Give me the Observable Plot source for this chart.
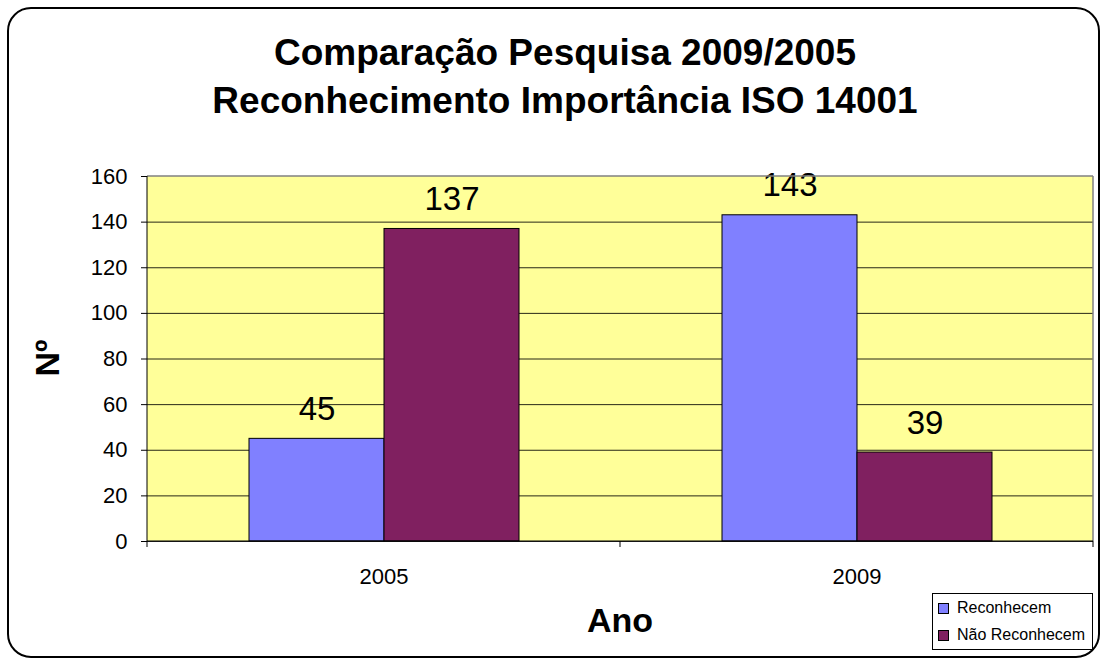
<!DOCTYPE html>
<html>
<head>
<meta charset="utf-8">
<script src="https://cdn.jsdelivr.net/npm/d3@7"></script>
<script src="https://cdn.jsdelivr.net/npm/@observablehq/plot@0.6"></script>
<style>
  html, body { margin: 0; padding: 0; background: #fff; }
  #wrap { position: relative; width: 1104px; height: 661px; font-family: "Liberation Sans", Arial, sans-serif; color: #000; overflow: hidden; }
  #frame { position: absolute; left: 7px; top: 7px; width: 1093px; height: 651px; border: 2px solid #000; border-radius: 24px; box-sizing: border-box; }
  #chart { position: absolute; left: 0; top: 0; }
  #title { position: absolute; left: 565px; top: 29px; transform: translateX(-50%); white-space: nowrap; text-align: center; font-weight: bold; font-size: 37px; line-height: 48px; }
  #ytitle { position: absolute; left: 47px; top: 358px; transform: translate(-50%, -50%) rotate(-90deg); font-weight: bold; font-size: 34px; white-space: nowrap; }
  #xtitle { position: absolute; left: 620px; top: 600px; transform: translateX(-50%); font-weight: bold; font-size: 34px; line-height: 40px; white-space: nowrap; }
  #legend { position: absolute; left: 932px; top: 593px; width: 161px; height: 57px; border: 1px solid #000; box-sizing: border-box; background: #fff; font-size: 16px; }
  .item { position: absolute; left: 5px; display: flex; align-items: center; white-space: nowrap; }
  .sw { width: 9px; height: 9px; border: 1px solid #000; margin-right: 8px; }
</style>
</head>
<body>
<div id="wrap">
  <div id="frame"></div>
  <div id="chart"></div>
  <div id="title">Comparação Pesquisa 2009/2005<br>Reconhecimento Importância ISO 14001</div>
  <div id="ytitle">Nº</div>
  <div id="xtitle">Ano</div>
  <div id="legend"></div>
</div>
<script>
const years = ["2005", "2009"];
const series = ["Reconhecem", "Não Reconhecem"];
const reconhecem = [45, 143];
const naoReconhecem = [137, 39];
const yTicks = [0, 20, 40, 60, 80, 100, 120, 140, 160];
const colors = ["#8080FF", "#802060"];

const data = years.flatMap((yr, i) => [
  {year: yr, series: series[0], value: reconhecem[i]},
  {year: yr, series: series[1], value: naoReconhecem[i]}
]);

const chart = Plot.plot({
  width: 1104,
  height: 661,
  marginLeft: 147,
  marginRight: 11,
  marginTop: 176,
  marginBottom: 120,
  style: {fontFamily: "Liberation Sans, Arial, sans-serif", color: "#000", background: "transparent", overflow: "visible"},
  fx: {domain: years, padding: 0, label: null},
  x: {domain: series, paddingInner: 0, paddingOuter: 0.745, axis: null},
  y: {domain: [0, 160], label: null},
  color: {domain: series, range: colors},
  marks: [
    Plot.gridY(yTicks.filter(t => t < 160), {stroke: "#000", strokeOpacity: 0.85, strokeWidth: 1}),
    Plot.barY(data, {fx: "year", x: "series", y: "value", fill: "series", stroke: "#000", strokeWidth: 1}),
    Plot.text(data, {fx: "year", x: "series", y: "value", text: d => String(d.value), lineAnchor: "bottom", dy: -19, fontSize: 33, fill: "#000"}),
    Plot.axisY(yTicks, {tickSize: 6, tickPadding: 14, fontSize: 22, label: null, stroke: "#000"}),
    Plot.axisFx({anchor: "bottom", tickSize: 0, tickPadding: 27, fontSize: 22, label: null})
  ]
});
document.getElementById("chart").appendChild(chart);

// plot-area background, borders and category boundary ticks, placed from Plot's own scales
const fxs = chart.scale("fx");
const ys = chart.scale("y");
const yBottom = ys.apply(0), yTop = ys.apply(160);
const edges = [];
fxs.domain.forEach(d => { const a = fxs.apply(d); edges.push(a, a + fxs.bandwidth); });
const uniq = Array.from(new Set(edges.map(e => Math.round(e * 10) / 10))).sort((a, b) => a - b);
const left = uniq[0], right = uniq[uniq.length - 1];
const svg = d3.select(chart);
svg.insert("rect", ":first-child")
  .attr("x", left).attr("y", yTop).attr("width", right - left).attr("height", yBottom - yTop)
  .attr("fill", "#FFFF99");
const g = svg.append("g");
g.append("line").attr("x1", left).attr("x2", right).attr("y1", yTop).attr("y2", yTop).attr("stroke", "#808080").attr("stroke-width", 1.5);
g.append("line").attr("x1", right).attr("x2", right).attr("y1", yTop).attr("y2", yBottom).attr("stroke", "#808080").attr("stroke-width", 1.5);
g.append("line").attr("x1", left).attr("x2", right).attr("y1", yBottom).attr("y2", yBottom).attr("stroke", "#000").attr("stroke-width", 1);
g.append("line").attr("x1", left).attr("x2", left).attr("y1", yTop).attr("y2", yBottom).attr("stroke", "#000").attr("stroke-width", 1);
uniq.forEach(x => {
  g.append("line").attr("x1", x).attr("x2", x).attr("y1", yBottom).attr("y2", yBottom + 6).attr("stroke", "#000").attr("stroke-width", 1);
});

// legend
const legend = document.getElementById("legend");
series.forEach((s, i) => {
  const it = document.createElement("div");
  it.className = "item";
  it.style.top = (i === 0 ? 5 : 32) + "px";
  it.innerHTML = `<span class="sw" style="background:${colors[i]}"></span><span>${s}</span>`;
  legend.appendChild(it);
});
</script>
</body>
</html>
